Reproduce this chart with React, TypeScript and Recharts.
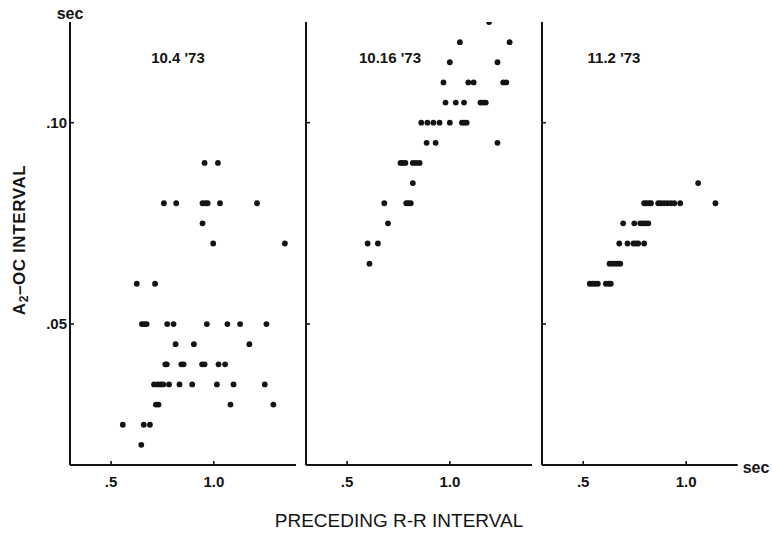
import React from 'react';
import { ScatterChart, Scatter, XAxis, YAxis } from 'recharts';

// ---- Data ----
const xTicks = [0.5, 1.0];
const xTickLabels = ['.5', '1.0'];
const yTicks = [0.05, 0.1];
const yTickLabels = ['.05', '.10'];
const panelTitles = ["10.4 '73", "10.16 '73", "11.2 '73"];

// Panel 1: 10.4 '73  (preceding R-R interval, A2-OC interval)
const p1RR = [
  0.955, 1.02,
  0.757, 0.817, 0.945, 0.96, 0.97, 1.03, 1.21,
  0.945,
  0.997, 1.346,
  0.625, 0.714,
  0.65, 0.662, 0.673, 0.773, 0.804, 0.966, 1.066, 1.128, 1.256,
  0.814, 0.903, 1.173,
  0.764, 0.771, 0.842, 0.853, 0.943, 0.955, 1.023, 1.055,
  0.709, 0.727, 0.741, 0.754, 0.782, 0.833, 0.895, 1.015, 1.096, 1.248,
  0.718, 0.731, 1.081, 1.29,
  0.557, 0.659, 0.689,
  0.647,
];
const p1A2OC = [
  0.09, 0.09,
  0.08, 0.08, 0.08, 0.08, 0.08, 0.08, 0.08,
  0.075,
  0.07, 0.07,
  0.06, 0.06,
  0.05, 0.05, 0.05, 0.05, 0.05, 0.05, 0.05, 0.05, 0.05,
  0.045, 0.045, 0.045,
  0.04, 0.04, 0.04, 0.04, 0.04, 0.04, 0.04, 0.04,
  0.035, 0.035, 0.035, 0.035, 0.035, 0.035, 0.035, 0.035, 0.035, 0.035,
  0.03, 0.03, 0.03, 0.03,
  0.025, 0.025, 0.025,
  0.02,
];

// Panel 2: 10.16 '73
const p2RR = [
  1.191,
  1.049, 1.291,
  1.0, 1.232,
  0.969, 1.09, 1.116, 1.26, 1.275,
  0.979, 1.029, 1.069, 1.149, 1.162, 1.175,
  0.861, 0.891, 0.92, 0.95, 1.0, 1.059, 1.07, 1.082,
  0.887, 0.931, 1.232,
  0.76, 0.771, 0.784, 0.82, 0.836, 0.853,
  0.82,
  0.681, 0.788, 0.799, 0.81,
  0.699,
  0.6, 0.65,
  0.609,
];
const p2A2OC = [
  0.125,
  0.12, 0.12,
  0.115, 0.115,
  0.11, 0.11, 0.11, 0.11, 0.11,
  0.105, 0.105, 0.105, 0.105, 0.105, 0.105,
  0.1, 0.1, 0.1, 0.1, 0.1, 0.1, 0.1, 0.1,
  0.095, 0.095, 0.095,
  0.09, 0.09, 0.09, 0.09, 0.09, 0.09,
  0.085,
  0.08, 0.08, 0.08, 0.08,
  0.075,
  0.07, 0.07,
  0.065,
];

// Panel 3: 11.2 '73
const p3RR = [
  1.058,
  0.796, 0.807, 0.82, 0.829, 0.864, 0.877, 0.893, 0.909, 0.926, 0.942, 0.971, 1.142,
  0.694, 0.748, 0.777, 0.79, 0.802, 0.816,
  0.675, 0.715, 0.744, 0.756, 0.767, 0.796,
  0.628, 0.641, 0.654, 0.667, 0.68,
  0.532, 0.545, 0.558, 0.571, 0.61, 0.625, 0.634,
];
const p3A2OC = [
  0.085,
  0.08, 0.08, 0.08, 0.08, 0.08, 0.08, 0.08, 0.08, 0.08, 0.08, 0.08, 0.08,
  0.075, 0.075, 0.075, 0.075, 0.075, 0.075,
  0.07, 0.07, 0.07, 0.07, 0.07, 0.07,
  0.065, 0.065, 0.065, 0.065, 0.065,
  0.06, 0.06, 0.06, 0.06, 0.06, 0.06, 0.06,
];

const toPoints = (xs: number[], ys: number[]) => xs.map((rr, i) => ({ rr, a2oc: ys[i] }));

const W = 772;
const H = 533;
const INK = '#141414';
const FONT = '"Liberation Sans", Arial, sans-serif';
const M = 8;

const fmtX = (v: number) => xTickLabels[xTicks.indexOf(v)] ?? String(v);
const fmtY = (v: number) => yTickLabels[yTicks.indexOf(v)] ?? String(v);

const XTick = (props: any) => {
  const { x, y, payload } = props;
  const axisY = y - M;
  return (
    <g>
      <line x1={x} x2={x} y1={axisY} y2={axisY - 4} stroke={INK} strokeWidth={1.6} />
      <text x={x} y={axisY + 22} textAnchor="middle" fontFamily={FONT} fontWeight="bold" fontSize={15} fill={INK}>
        {fmtX(payload.value)}
      </text>
    </g>
  );
};

const YTickLabeled = (props: any) => {
  const { x, y, payload } = props;
  const ax = x + M;
  return (
    <g>
      <line x1={ax} x2={ax + 4} y1={y} y2={y} stroke={INK} strokeWidth={1.6} />
      <text x={ax - 3} y={y} dy="0.36em" textAnchor="end" fontFamily={FONT} fontWeight="bold" fontSize={15} fill={INK}>
        {fmtY(payload.value)}
      </text>
    </g>
  );
};

const YTickInner = (props: any) => {
  const { x, y } = props;
  const ax = x + M;
  return <line x1={ax} x2={ax + 4} y1={y} y2={y} stroke={INK} strokeWidth={1.6} />;
};

const Dot = (p: any) => <circle cx={p.cx} cy={p.cy} r={2.9} fill={INK} />;

type PanelProps = {
  data: { rr: number; a2oc: number }[];
  left: number;
  right: number;
  xMax: number;
  labeled: boolean;
};

const Panel = ({ data, left, right, xMax, labeled }: PanelProps) => (
  <div style={{ position: 'absolute', left: 0, top: 0 }}>
    <ScatterChart width={W} height={H} margin={{ top: 22, right: W - right, bottom: 38, left: left - 40 }}>
      <XAxis
        type="number"
        dataKey="rr"
        domain={[0.3, xMax]}
        ticks={xTicks}
        allowDataOverflow
        height={30}
        tickSize={0}
        tickMargin={M}
        tickLine={false}
        axisLine={{ stroke: INK, strokeWidth: 2 }}
        tick={<XTick />}
      />
      <YAxis
        type="number"
        dataKey="a2oc"
        domain={[0.015, 0.125]}
        ticks={yTicks}
        allowDataOverflow
        width={40}
        tickSize={0}
        tickMargin={M}
        tickLine={false}
        axisLine={{ stroke: INK, strokeWidth: 2 }}
        tick={labeled ? <YTickLabeled /> : <YTickInner />}
      />
      <Scatter data={data} isAnimationActive={false} shape={Dot} />
    </ScatterChart>
  </div>
);

export default function App() {
  const textStyle = { fontFamily: FONT, fill: INK };
  return (
    <div style={{ position: 'absolute', left: 0, top: 0, width: W, height: H, background: '#fff' }}>
      <Panel data={toPoints(p1RR, p1A2OC)} left={70} right={296} xMax={1.4} labeled />
      <Panel data={toPoints(p2RR, p2A2OC)} left={306} right={532} xMax={1.4} labeled={false} />
      <Panel data={toPoints(p3RR, p3A2OC)} left={542} right={737.7} xMax={1.25} labeled={false} />
      <svg width={W} height={H} style={{ position: 'absolute', left: 0, top: 0, pointerEvents: 'none' }}>
        <text x={70} y={19} textAnchor="middle" fontSize={16} fontWeight="bold" {...textStyle}>sec</text>
        <text x={756} y={473} textAnchor="middle" fontSize={16} fontWeight="bold" {...textStyle}>sec</text>
        <text x={178} y={63} textAnchor="middle" fontSize={15} fontWeight="bold" {...textStyle}>{panelTitles[0]}</text>
        <text x={390} y={63} textAnchor="middle" fontSize={15} fontWeight="bold" {...textStyle}>{panelTitles[1]}</text>
        <text x={614} y={63} textAnchor="middle" fontSize={15} fontWeight="bold" {...textStyle}>{panelTitles[2]}</text>
        <text x={399} y={527} textAnchor="middle" fontSize={19} {...textStyle}>PRECEDING R-R INTERVAL</text>
        <text transform="translate(25,240) rotate(-90)" textAnchor="middle" fontSize={17} fontWeight="bold" letterSpacing={0.6} {...textStyle}>
          A<tspan fontSize={12} dy={3}>2</tspan><tspan dy={-3}>–OC INTERVAL</tspan>
        </text>
      </svg>
    </div>
  );
}
